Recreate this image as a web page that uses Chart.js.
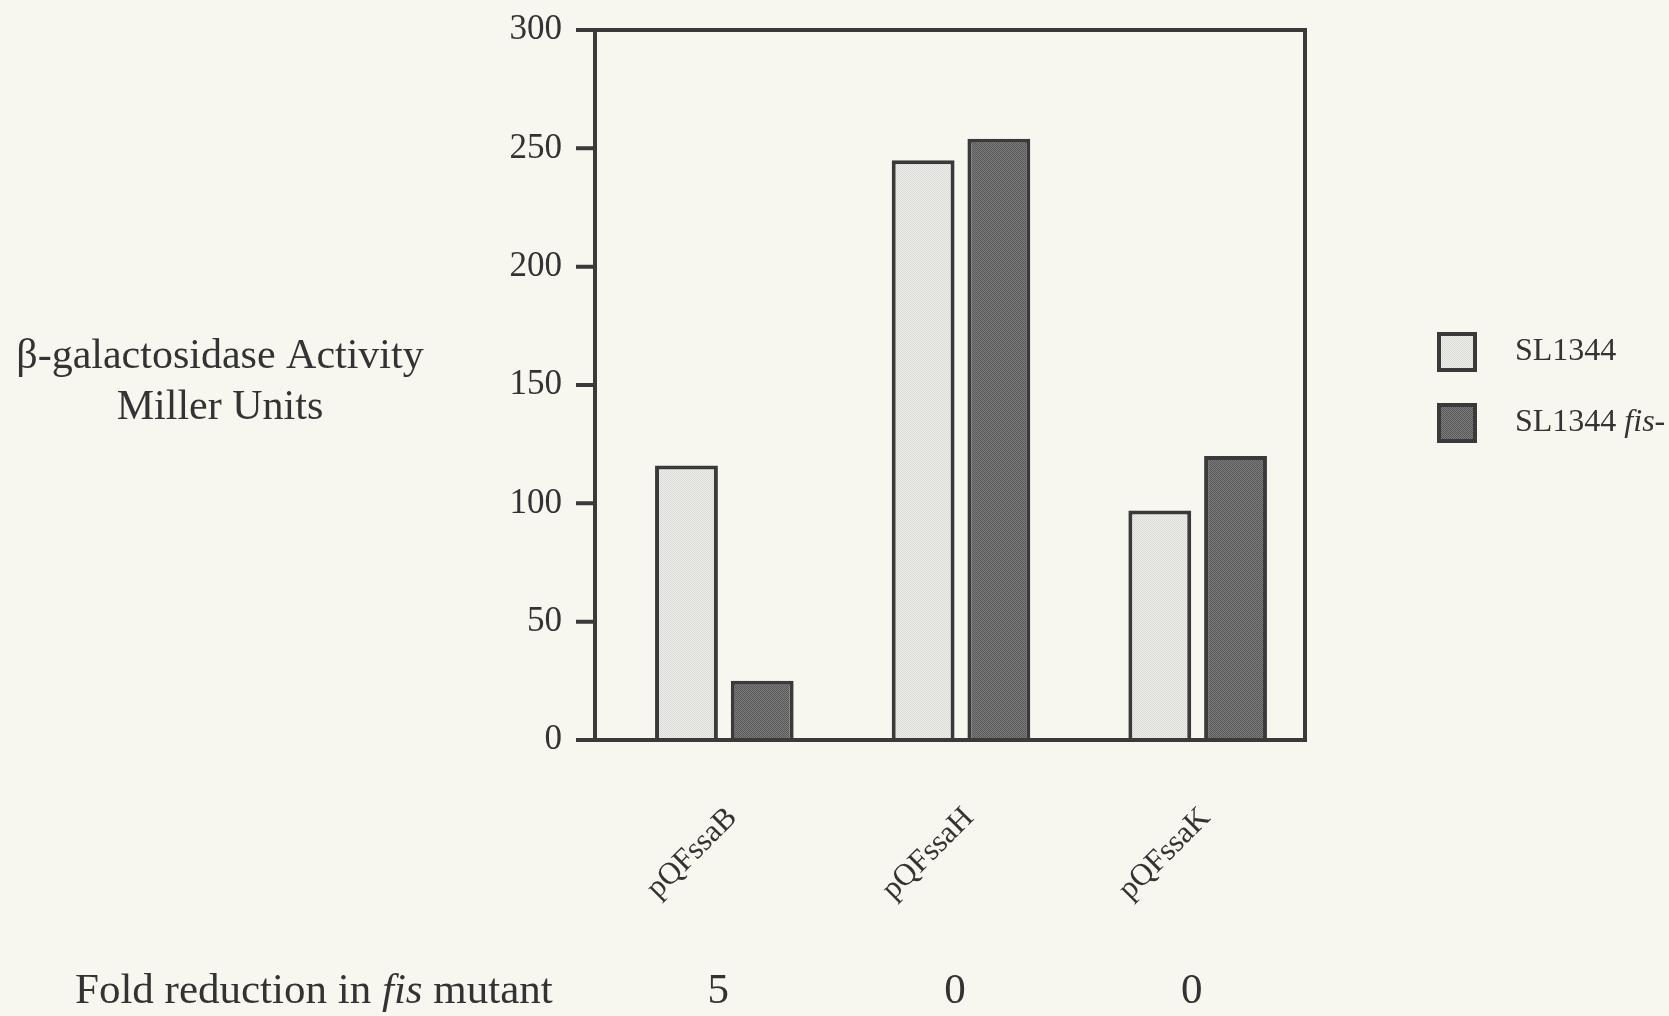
<!DOCTYPE html>
<html>
<head>
<meta charset="utf-8">
<script src="https://cdn.jsdelivr.net/npm/chart.js@4/dist/chart.umd.min.js"></script>
<style>
  html, body { margin: 0; padding: 0; background: #f7f6ef; }
  #wrap { width: 1669px; height: 1016px; }
</style>
</head>
<body>
<div id="wrap"><canvas id="c" width="1669" height="1016"></canvas></div>
<script>
// Promoter activity per construct (Miller units)
const categories = ['pQFssaB', 'pQFssaH', 'pQFssaK'];
const wildType = [116, 245, 97];      // SL1344
const fisMutant = [25, 254, 120];     // SL1344 fis-
const foldReduction = ['5', '0', '0'];
const yTicks = [0, 50, 100, 150, 200, 250, 300];

// Text; segments between asterisks are set in italics
const seriesLabels = ['SL1344', 'SL1344 *fis-*'];
const yTitleLines = ['β-galactosidase Activity', 'Miller Units'];
const foldRowTitle = 'Fold reduction in *fis* mutant';

const SERIF = '"Liberation Serif", "Times New Roman", serif';
const INK = '#3a3a3a';
const TEXT = '#333333';
const FRAME_INSET = 11;   // frame sits this far left of the bar area
const TICK_LEN = 19;

// Stippled fills for the bars
function stipple(base, dot) {
  const c = document.createElement('canvas');
  c.width = c.height = 2;
  const g = c.getContext('2d');
  g.fillStyle = base; g.fillRect(0, 0, 2, 2);
  g.fillStyle = dot; g.fillRect(0, 0, 1, 1); g.fillRect(1, 1, 1, 1);
  return g.createPattern(c, 'repeat');
}
const lightFill = stipple('#efefeb', '#d9d9d5');
const darkFill = stipple('#7d7d7d', '#585858');

function drawRich(ctx, str, x, y, size, align) {
  const parts = str.split('*').map((t, i) => ({ t, it: i % 2 === 1 })).filter(p => p.t.length);
  const fontFor = it => (it ? 'italic ' : '') + size + 'px ' + SERIF;
  let total = 0;
  parts.forEach(p => { ctx.font = fontFor(p.it); p.w = ctx.measureText(p.t).width; total += p.w; });
  let cx = align === 'center' ? x - total / 2 : align === 'right' ? x - total : x;
  ctx.textAlign = 'left';
  ctx.textBaseline = 'middle';
  parts.forEach(p => { ctx.font = fontFor(p.it); ctx.fillText(p.t, cx, y); cx += p.w; });
}

const decorations = {
  id: 'decorations',
  beforeDraw(chart) {
    const ctx = chart.ctx;
    ctx.save();
    ctx.fillStyle = '#f7f6ef';
    ctx.fillRect(0, 0, chart.width, chart.height);
    ctx.restore();
  },
  afterDraw(chart) {
    const ctx = chart.ctx;
    const a = chart.chartArea;
    const ys = chart.scales.y;
    const fl = a.left - FRAME_INSET, fr = a.right - FRAME_INSET;
    ctx.save();
    // plot frame
    ctx.strokeStyle = INK;
    ctx.lineWidth = 4;
    ctx.strokeRect(fl, a.top, fr - fl, a.bottom - a.top);
    // outward y ticks
    ctx.beginPath();
    ys.ticks.forEach(t => {
      const y = ys.getPixelForValue(t.value);
      ctx.moveTo(fl - TICK_LEN, y);
      ctx.lineTo(fl, y);
    });
    ctx.stroke();

    ctx.fillStyle = TEXT;
    // y axis title
    drawRich(ctx, yTitleLines[0], 220, 357, 42, 'center');
    drawRich(ctx, yTitleLines[1], 220, 408, 42, 'center');

    // fold reduction row
    drawRich(ctx, foldRowTitle, 75, 992, 43, 'left');
    const xs = chart.scales.x;
    foldReduction.forEach((v, i) => drawRich(ctx, v, xs.getPixelForValue(i) - 6, 992, 43, 'center'));

    // legend
    chart.data.datasets.forEach((ds, i) => {
      const top = 332 + i * 71;
      ctx.fillStyle = ds.backgroundColor;
      ctx.fillRect(1437, top, 40, 40);
      ctx.strokeStyle = INK;
      ctx.lineWidth = 4;
      ctx.strokeRect(1439, top + 2, 36, 36);
      ctx.fillStyle = TEXT;
      drawRich(ctx, seriesLabels[i], 1515, top + 20, 32, 'left');
    });
    ctx.restore();
  }
};

new Chart(document.getElementById('c'), {
  type: 'bar',
  data: {
    labels: categories,
    datasets: [
      { label: seriesLabels[0].replace(/\*/g, ''), data: wildType, backgroundColor: lightFill,
        borderColor: INK, borderWidth: 4, borderSkipped: 'start' },
      { label: seriesLabels[1].replace(/\*/g, ''), data: fisMutant, backgroundColor: darkFill,
        borderColor: INK, borderWidth: 4, borderSkipped: 'start' }
    ]
  },
  options: {
    responsive: false,
    animation: false,
    categoryPercentage: 0.64,
    barPercentage: 0.83,
    layout: { padding: { left: 466, top: 30, right: 353, bottom: 0 } },
    plugins: { legend: { display: false }, tooltip: { enabled: false } },
    scales: {
      x: {
        grid: { display: false, drawTicks: false },
        border: { display: false },
        ticks: { font: { family: SERIF, size: 31 }, color: TEXT, minRotation: 45, maxRotation: 45,
                 padding: 60, labelOffset: 8 },
        afterFit(s) { s.height = 276; }
      },
      y: {
        min: 0, max: 300,
        afterBuildTicks(s) { s.ticks = yTicks.map(v => ({ value: v })); },
        grid: { display: true, drawOnChartArea: false, drawTicks: true,
                tickLength: TICK_LEN + FRAME_INSET + 5, tickColor: 'rgba(0,0,0,0)', color: 'rgba(0,0,0,0)' },
        border: { display: false },
        ticks: { font: { family: SERIF, size: 35 }, color: TEXT, padding: 9 },
        afterFit(s) { s.width = 140; }
      }
    }
  },
  plugins: [decorations]
});
</script>
</body>
</html>
